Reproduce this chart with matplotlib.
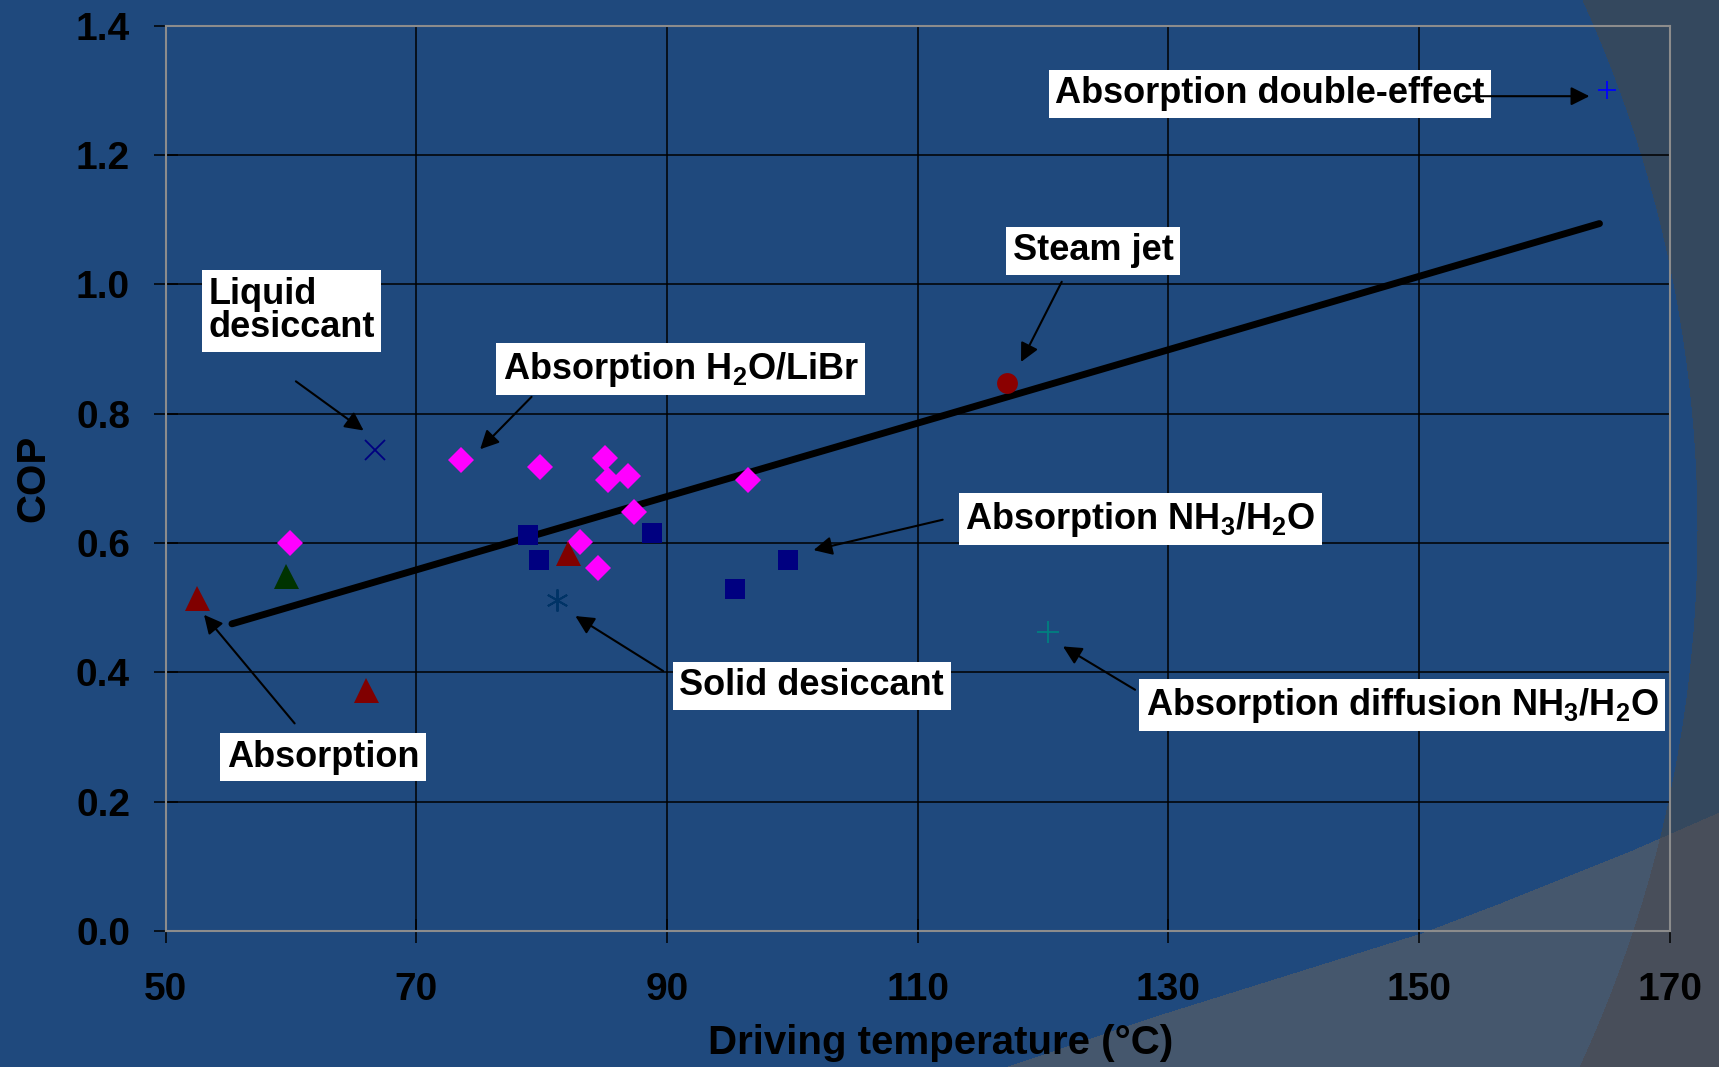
"""
COP vs driving temperature for thermally driven cooling technologies
"""
import numpy as np
import matplotlib
matplotlib.use('Agg')
import matplotlib.pyplot as plt

# ==========================================
# DATA
# ==========================================
libr_x = [59.9, 73.6, 79.9, 83.1, 84.5, 85.1, 85.3, 86.9, 87.4, 96.5]
libr_y = [0.600, 0.728, 0.717, 0.601, 0.562, 0.731, 0.698, 0.704, 0.648, 0.698]

nh3_x = [78.9, 79.8, 88.8, 95.4, 99.7]
nh3_y = [0.613, 0.574, 0.616, 0.529, 0.574]

absorption_x = [52.5, 66.0, 82.1]
absorption_y = [0.515, 0.373, 0.585]

absorption_green_x = [59.6]
absorption_green_y = [0.549]

liquid_desiccant_x = [66.7]
liquid_desiccant_y = [0.744]

solid_desiccant_x = [81.2]
solid_desiccant_y = [0.512]

steam_jet_x = [117.1]
steam_jet_y = [0.848]

double_effect_x = [165.0]
double_effect_y = [1.300]

diffusion_x = [120.4]
diffusion_y = [0.462]

trend_x = [55.3, 164.4]
trend_y = [0.475, 1.094]

x_ticks = [50, 70, 90, 110, 130, 150, 170]
y_ticks = [0.0, 0.2, 0.4, 0.6, 0.8, 1.0, 1.2, 1.4]

# label text, text anchor (left, middle), arrow start, arrow tip
labels = [
    ('Absorption double-effect', (121.0, 1.295), (153.5, 1.291), (163.6, 1.291)),
    ('Steam jet', (117.6, 1.052), (121.5, 1.004), (118.25, 0.880)),
    ('Liquid\ndesiccant', (53.4, 0.959), (60.4, 0.850), (65.8, 0.774)),
    ('Absorption H$_2$O/LiBr', (76.9, 0.869), (79.2, 0.826), (75.1, 0.745)),
    ('Absorption NH$_3$/H$_2$O', (113.8, 0.637), (112.0, 0.636), (101.7, 0.589)),
    ('Solid desiccant', (91.0, 0.379), (89.7, 0.402), (82.7, 0.487)),
    ('Absorption diffusion NH$_3$/H$_2$O', (128.2, 0.349), (127.35, 0.373), (121.6, 0.440)),
    ('Absorption', (54.9, 0.269), (60.3, 0.321), (53.07, 0.489)),
]

# ==========================================
# STYLE
# ==========================================
plt.rcParams['font.family'] = ['Liberation Sans', 'DejaVu Sans']
plt.rcParams['font.weight'] = 'bold'
plt.rcParams['mathtext.fontset'] = 'custom'
plt.rcParams['mathtext.rm'] = 'Liberation Sans:bold'
plt.rcParams['mathtext.it'] = 'Liberation Sans:bold'
plt.rcParams['mathtext.bf'] = 'Liberation Sans:bold'
plt.rcParams['mathtext.default'] = 'rm'

W, H = 1719, 1067
fig = plt.figure(figsize=(W / 100, H / 100), dpi=100)

# slide background: blue with grey swooshes on the right / bottom
bg = fig.add_axes([0, 0, 1, 1], zorder=-1)
yy, xx = np.mgrid[0:H, 0:W]
img = np.zeros((H, W, 3))
img[:] = np.array([31, 73, 125]) / 255
right = (xx - 418) ** 2 + (yy - 530) ** 2 > 1279 ** 2
band_y = np.interp(xx, [800, 1005, 1152, 1421, 1500, 1632, 1719],
                   [1150, 1067, 1017, 933, 903, 850, 812])
band = yy > band_y
img[right] = np.array([52, 72, 94]) / 255
img[band] = np.array([69, 87, 109]) / 255
img[right & band] = np.array([72, 78, 90]) / 255
bg.imshow(img, extent=[0, W, H, 0], aspect='auto', interpolation='bilinear')
bg.set_axis_off()

ax = fig.add_axes([0.0963, 0.1275, 0.875, 0.8484])
ax.patch.set_visible(False)

# trend line
ax.plot(trend_x, trend_y, color='black', lw=5, solid_capstyle='round', zorder=3)

ax.plot(libr_x, libr_y, 'D', color='#FF00FF', ms=13.5, mew=0, zorder=4)
ax.plot(nh3_x, nh3_y, 's', color='#000080', ms=14.5, mew=0, zorder=4)
ax.plot(absorption_x, absorption_y, '^', color='#800000', ms=18, mew=0, zorder=4)
ax.plot(absorption_green_x, absorption_green_y, '^', color='#003300', ms=18, mew=0, zorder=4)
ax.plot(liquid_desiccant_x, liquid_desiccant_y, 'x', color='#000080', ms=15, mew=1.3, zorder=4)
ax.plot(solid_desiccant_x, solid_desiccant_y, marker=(6, 2, 0), ls='none',
        color='#003366', ms=16, mew=1.4, zorder=4)
ax.plot(steam_jet_x, steam_jet_y, 'o', color='#8B0000', ms=15, mew=0, zorder=4)
ax.plot(double_effect_x, double_effect_y, '+', color='#0000FF', ms=13, mew=1.3, zorder=4)
ax.plot(diffusion_x, diffusion_y, '+', color='#008080', ms=16, mew=1.3, zorder=4)

# text boxes and arrows
for text, pos, start, tip in labels:
    ax.text(pos[0], pos[1], text, fontsize=26, fontweight='bold', color='black',
            ha='left', va='center', linespacing=0.95, zorder=5,
            bbox=dict(boxstyle='square,pad=0.18', fc='white', ec='none'))
    ax.annotate('', xy=tip, xytext=start, zorder=6,
                arrowprops=dict(arrowstyle='-|>', color='black', lw=1.5,
                                mutation_scale=28, shrinkA=0, shrinkB=0))

# axes
ax.set_xlim(50, 170)
ax.set_ylim(0, 1.4)
ax.set_xticks(x_ticks)
ax.set_yticks(y_ticks)
ax.set_yticklabels([f'{v:.1f}' for v in y_ticks])
ax.set_axisbelow(True)
ax.grid(True, color='black', lw=1.1)
for side in ['left', 'right', 'top', 'bottom']:
    ax.spines[side].set_color('#8C8C8C')
    ax.spines[side].set_linewidth(1.5)
ax.tick_params(axis='both', direction='inout', length=17, width=1.1,
               color='black', labelsize=28, labelcolor='black')
ax.tick_params(axis='x', pad=21)
ax.tick_params(axis='y', pad=17)
for lab in ax.get_xticklabels() + ax.get_yticklabels():
    lab.set_fontweight('bold')

ax.set_xlabel('Driving temperature (°C)', fontsize=29, fontweight='bold', va='center')
ax.xaxis.set_label_coords(0.515, -0.124)
ax.set_ylabel('COP', fontsize=29, fontweight='bold', va='center')
ax.yaxis.set_label_coords(-0.088, 0.5)

fig.savefig('out.png', dpi=100)
